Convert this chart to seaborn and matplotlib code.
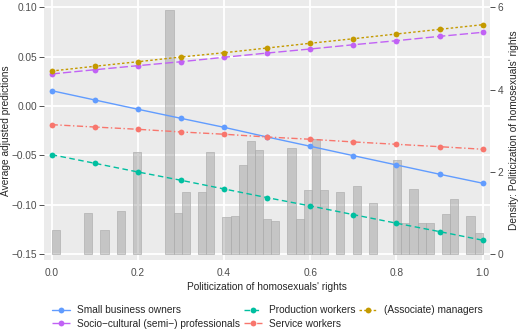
import numpy as np
import pandas as pd
import matplotlib
matplotlib.use("Agg")
import matplotlib.pyplot as plt
import matplotlib.transforms as mtransforms
import seaborn as sns

# %% data
x_vals = [0.0, 0.1, 0.2, 0.3, 0.4, 0.5, 0.6, 0.7, 0.8, 0.9, 1.0]

small_business = [0.0156, 0.0062, -0.0032, -0.0124, -0.0215, -0.0313,
                  -0.0407, -0.0502, -0.0596, -0.0690, -0.0781]
socio_cultural = [0.0325, 0.0368, 0.0409, 0.0449, 0.0494, 0.0537,
                  0.0578, 0.0621, 0.0662, 0.0706, 0.0747]
production = [-0.0492, -0.0579, -0.0667, -0.0751, -0.0839, -0.0927,
              -0.1011, -0.1099, -0.1186, -0.1271, -0.1358]
service = [-0.0188, -0.0212, -0.0235, -0.0262, -0.0285, -0.0313,
           -0.0336, -0.0363, -0.0387, -0.0411, -0.0437]
managers = [0.0355, 0.0403, 0.0449, 0.0497, 0.0540, 0.0588,
            0.0636, 0.0682, 0.0730, 0.0777, 0.0824]

groups = ["Small business owners", "Socio\u2212cultural (semi\u2212) professionals",
          "Production workers", "Service workers", "(Associate) managers"]
colors = ["#619CFF", "#C162F5", "#00BFA0", "#F8766D", "#C49A00"]
dash_styles = ["", (6, 2.2), (4, 2.5), (4.5, 1.8, 1, 1.8), (1.8, 1.6)]

# density of politicization, 53 equal bins over [0, 1]
n_bins = 53
hist_density = [0.59, 0, 0, 0, 1.00, 0, 0.59, 0, 1.05, 0,
                2.49, 0, 0, 0, 5.93, 1.00, 1.51, 0, 1.51, 2.49,
                0, 0.90, 0.94, 2.18, 2.74, 2.53, 0.86, 0.81, 0, 2.57,
                0.86, 1.55, 2.79, 1.57, 0, 1.52, 0, 1.65, 0, 1.25,
                0, 0, 2.28, 0.75, 1.59, 0.77, 0.75, 0, 0.97, 1.34,
                0, 0.92, 0.52]

x_ticks = [0.0, 0.2, 0.4, 0.6, 0.8, 1.0]
y_ticks = [-0.15, -0.10, -0.05, 0.00, 0.05, 0.10]
dens_ticks = [0, 2, 4, 6]

# %%
pred = pd.DataFrame({
    "x": x_vals * 5,
    "y": small_business + socio_cultural + production + service + managers,
    "group": np.repeat(groups, len(x_vals)),
})
edges = np.linspace(0, 1, n_bins + 1)
hist = pd.DataFrame({"x": (edges[:-1] + edges[1:]) / 2, "w": hist_density})

# %%
sns.set_style("white")
plt.rcParams["font.family"] = ["Liberation Sans", "DejaVu Sans"]
plt.rcParams["axes.unicode_minus"] = True
fs = 7.3

fig, ax = plt.subplots(figsize = (5.18, 3.35), dpi = 100)
fig.subplots_adjust(left = 0.0855, right = 0.946, top = 1.0, bottom = 0.2225)
ax2 = ax.twinx()

ax.set_zorder(ax2.get_zorder() + 1)
ax.patch.set_visible(False)
ax2.patch.set_visible(True)
ax2.set_facecolor("#EBEBEB")

sns.histplot(data = hist, x = "x", weights = "w", bins = n_bins, binrange = (0, 1),
             stat = "count", color = "grey", alpha = 0.35, edgecolor = "#B0B0B0",
             linewidth = 0.5, ax = ax2)
for p in ax2.patches:
    if p.get_height() == 0:
        p.set_visible(False)

sns.lineplot(data = pred, x = "x", y = "y", hue = "group", style = "group",
             hue_order = groups, style_order = groups,
             palette = dict(zip(groups, colors)),
             dashes = dict(zip(groups, dash_styles)),
             markers = dict(zip(groups, ["o"] * 5)),
             markersize = 4.2, markeredgewidth = 0, linewidth = 1.0, ax = ax)

ax.set_xlim(-0.017, 1.017)
ax.set_ylim(-0.1563, 0.1074)
ax2.set_ylim((-0.1563 + 0.15) * 24, (0.1074 + 0.15) * 24)

# grid under the bars
trans = mtransforms.blended_transform_factory(ax2.transAxes, ax.transData)
for v in y_ticks:
    ax2.plot([0, 1], [v, v], transform = trans, color = "white", lw = 1.3, zorder = 0.5)
for xv in x_ticks:
    ax2.axvline(xv, color = "white", lw = 1.3, zorder = 0.5)

ax.set_xticks(x_ticks)
ax.set_yticks(y_ticks)
ax2.set_yticks(dens_ticks)

for a in (ax, ax2):
    for s in a.spines.values():
        s.set_visible(False)
    a.tick_params(colors = "#333333", labelcolor = "#4D4D4D", labelsize = fs,
                  length = 3.8, width = 0.6, pad = 1.5)

ax.set_xlabel("Politicization of homosexuals' rights", fontsize = fs, labelpad = 3)
ax.set_ylabel("Average adjusted predictions", fontsize = fs, labelpad = 0.5)
ax2.set_ylabel("Density: Politicization of homosexuals' rights", fontsize = fs,
               rotation = 90, labelpad = 4)

h, l = ax.get_legend_handles_labels()
keep = {lab: hd for hd, lab in zip(h, l) if lab in groups}
ax.get_legend().remove()
fig.legend([keep[g] for g in groups], groups, ncol = 3, loc = "upper left",
           bbox_to_anchor = (0.085, 0.113), frameon = False, fontsize = fs,
           handlelength = 1.75, handletextpad = 0.7, columnspacing = 0.4,
           labelspacing = 0.32, borderpad = 0.3)

fig.savefig("out.png", dpi = 100)
